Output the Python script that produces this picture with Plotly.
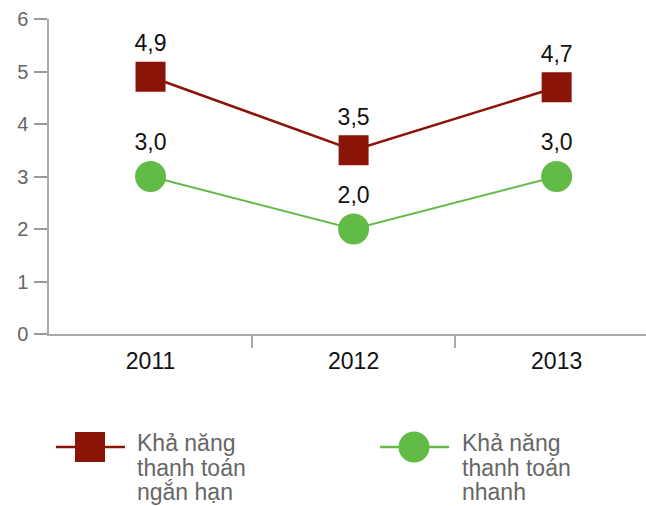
import plotly.graph_objects as go

# Liquidity ratios by year
years = ["2011", "2012", "2013"]
short_term = [4.9, 3.5, 4.7]
quick = [3.0, 2.0, 3.0]
series_names = [["Khả năng", "thanh toán", "ngắn hạn"], ["Khả năng", "thanh toán", "nhanh"]]
y_ticks = [0, 1, 2, 3, 4, 5, 6]

RED = "#8b1409"
GREEN = "#63bb47"
FONT = "Helvetica Neue, Helvetica, Arial, Liberation Sans, sans-serif"

W, H = 646, 506
L, R, T, B = 49, 0, 19, 172
PW, PH = W - L - R, H - T - B


def fmt(v):
    return f"{v:.1f}".replace(".", ",")


x_idx = list(range(len(years)))

fig = go.Figure()
fig.add_trace(go.Scatter(
    x=x_idx, y=short_term, mode="lines+markers+text",
    line=dict(color=RED, width=2.5),
    marker=dict(symbol="square", size=30, color=RED),
    text=[fmt(v) for v in short_term], textposition="top center",
    textfont=dict(size=23, color="#111", family=FONT),
    cliponaxis=False, showlegend=False,
))
fig.add_trace(go.Scatter(
    x=x_idx, y=quick, mode="lines+markers+text",
    line=dict(color=GREEN, width=2),
    marker=dict(symbol="circle", size=31, color=GREEN),
    text=[fmt(v) for v in quick], textposition="top center",
    textfont=dict(size=23, color="#111", family=FONT),
    cliponaxis=False, showlegend=False,
))


# Hand-built legend below the plot, positioned in pixels
def px(X):
    return (X - L) / PW


def py(Y):
    return (H - B - Y) / PH


shapes = []
annotations = []
legend_items = [
    (series_names[0], RED, "square", 56, 125, 90, 30, 135),
    (series_names[1], GREEN, "circle", 380, 449, 414, 31, 460),
]
for lines, color, sym, x0, x1, cx, sz, tx in legend_items:
    cy = 447
    shapes.append(dict(type="line", xref="paper", yref="paper",
                       x0=px(x0), x1=px(x1), y0=py(cy), y1=py(cy),
                       line=dict(color=color, width=2.5)))
    shapes.append(dict(type="rect" if sym == "square" else "circle",
                       xref="paper", yref="paper",
                       x0=px(cx - sz / 2), x1=px(cx + sz / 2),
                       y0=py(cy + sz / 2), y1=py(cy - sz / 2),
                       fillcolor=color, line=dict(width=0)))
    for i, line in enumerate(lines):
        annotations.append(dict(xref="paper", yref="paper", x=px(tx), y=py(443 + 24.5 * i),
                                xanchor="left", yanchor="middle", align="left",
                                text=line, showarrow=False,
                                font=dict(size=23, color="#666", family=FONT)))

fig.update_layout(
    width=W, height=H,
    margin=dict(l=L, r=R, t=T, b=B),
    paper_bgcolor="white", plot_bgcolor="white",
    font=dict(family=FONT),
    shapes=shapes, annotations=annotations,
    xaxis=dict(
        range=[-0.5, 2.44], tickmode="array", tickvals=x_idx, ticktext=years,
        ticks="", showgrid=False, zeroline=False,
        showline=True, linecolor="#aaa", linewidth=1.5,
        tickfont=dict(size=23, color="#111", family=FONT),
        ticklabelstandoff=6,
        minor=dict(tickmode="array", tickvals=[0.5, 1.5], ticks="outside",
                   ticklen=12, tickcolor="#aaa", tickwidth=1.5),
    ),
    yaxis=dict(
        range=[0, 6], tickmode="array", tickvals=y_ticks,
        ticks="outside", ticklen=13, tickcolor="#999", tickwidth=1.5,
        showgrid=False, zeroline=False,
        showline=True, linecolor="#aaa", linewidth=1.5,
        tickfont=dict(size=20, color="#666", family=FONT),
        ticklabelstandoff=2,
    ),
)

fig.write_html("out.html")
